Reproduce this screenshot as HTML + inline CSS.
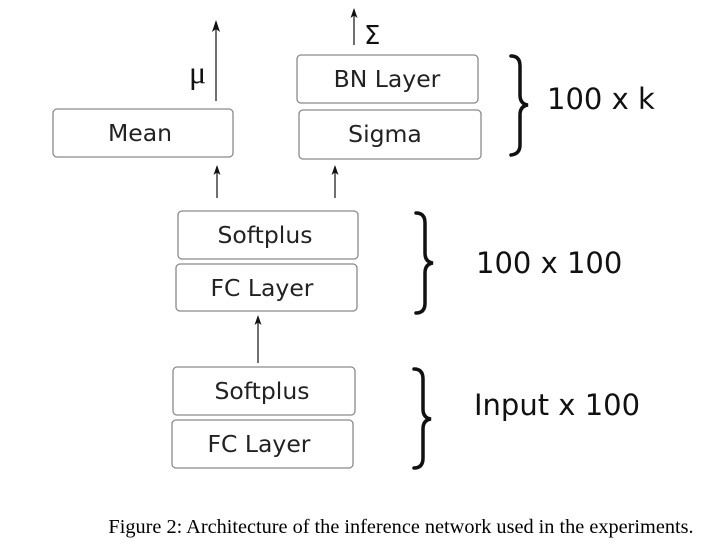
<!DOCTYPE html>
<html><head><meta charset="utf-8"><style>
html,body{margin:0;padding:0;background:#fff;}
svg{display:block;}
.bx{fill:#fff;stroke:#8a8a8a;stroke-width:1.3;}
.lb{font-family:"DejaVu Sans",sans-serif;font-size:23.5px;fill:#222;text-anchor:middle;}
.big{font-family:"DejaVu Sans",sans-serif;font-size:29px;fill:#111;}
.ar{stroke:#222;stroke-width:1.3;fill:none;}
.br{stroke:#111;stroke-width:3.5;fill:none;stroke-linecap:round;}
</style></head><body>
<svg width="711" height="545" viewBox="0 0 711 545">
<g><rect class="bx" x="53" y="109" width="180" height="48" rx="4"/><text class="lb" x="140" y="141">Mean</text></g>
<g><rect class="bx" x="297" y="55" width="181" height="48" rx="4"/><text class="lb" x="387" y="87">BN Layer</text></g>
<g><rect class="bx" x="299" y="110" width="182" height="49" rx="4"/><text class="lb" x="385" y="142">Sigma</text></g>
<line class="ar" x1="216" y1="101" x2="216" y2="22"/>
<path d="M216 20 l-4 12 l4 -3 l4 3z" fill="#111"/>
<text class="big" x="189" y="83" style="font-size:32px;font-family:'Liberation Serif',serif">μ</text>
<line class="ar" x1="354" y1="45" x2="354" y2="10"/><path d="M354 8 l-3.5 10 l3.5 -2.5 l3.5 2.5z" fill="#111"/>
<text class="big" x="364" y="44" style="font-size:26px">Σ</text>
<line class="ar" x1="217" y1="198" x2="217" y2="167"/><path d="M217 165 l-3.5 10 l3.5 -2.5 l3.5 2.5z" fill="#111"/>
<line class="ar" x1="335" y1="198" x2="335" y2="167"/><path d="M335 165 l-3.5 10 l3.5 -2.5 l3.5 2.5z" fill="#111"/>
<g><rect class="bx" x="178" y="211" width="180" height="48" rx="4"/><text class="lb" x="265" y="243">Softplus</text></g>
<g><rect class="bx" x="176" y="264" width="181" height="47" rx="4"/><text class="lb" x="262" y="296">FC Layer</text></g>
<line class="ar" x1="258" y1="363" x2="258" y2="318"/><path d="M258 315 l-3.5 10 l3.5 -2.5 l3.5 2.5z" fill="#111"/>
<g><rect class="bx" x="173" y="367" width="182" height="48" rx="4"/><text class="lb" x="262" y="399">Softplus</text></g>
<g><rect class="bx" x="172" y="420" width="181" height="48" rx="4"/><text class="lb" x="259" y="452">FC Layer</text></g>
<path class="br" d="M511 56 Q520 56 520 66 L520 95 Q520 104 528 105 Q520 106 520 115 L520 145 Q520 154 511 155"/>
<text class="big" x="547" y="109">100 x k</text>
<path class="br" d="M416 213 Q425 213 425 223 L425 253 Q425 262 433 263 Q425 264 425 273 L425 303 Q425 313 416 313"/>
<text class="big" x="476" y="273">100 x 100</text>
<path class="br" d="M414 369 Q423 369 423 379 L423 409 Q423 418 431 419 Q423 420 423 429 L423 458 Q423 468 414 468"/>
<text class="big" x="474" y="415">Input x 100</text>
<text x="401" y="533" text-anchor="middle" style="font-family:'Liberation Serif',serif;font-size:20.3px;fill:#000">Figure 2: Architecture of the inference network used in the experiments.</text>
</svg>
</body></html>
